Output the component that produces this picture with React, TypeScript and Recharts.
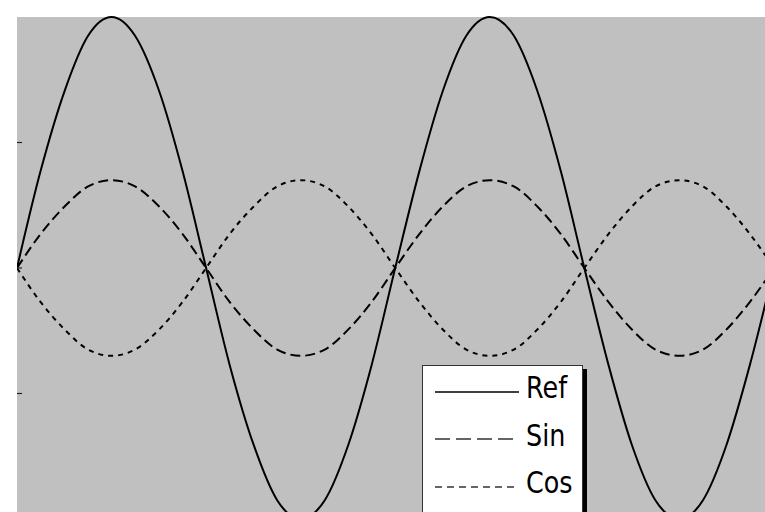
import { LineChart, Line, XAxis, YAxis, CartesianGrid, Legend } from 'recharts';

// sample positions along x (radians, step pi/8)
const xs = [
  0, 0.39, 0.79, 1.18, 1.57, 1.96, 2.36, 2.75, 3.14, 3.53, 3.93, 4.32, 4.71, 5.11, 5.5, 5.89,
  6.28, 6.68, 7.07, 7.46, 7.85, 8.25, 8.64, 9.03, 9.42, 9.82, 10.21, 10.6, 11.0, 11.39, 11.78, 12.17, 12.57,
];

// values
const refValues = [
  0, 0.77, 1.41, 1.85, 2, 1.85, 1.41, 0.77, 0, -0.77, -1.41, -1.85, -2, -1.85, -1.41, -0.77,
  0, 0.77, 1.41, 1.85, 2, 1.85, 1.41, 0.77, 0, -0.77, -1.41, -1.85, -2, -1.85, -1.41, -0.77, 0,
];
const sinValues = [
  0, 0.27, 0.49, 0.65, 0.7, 0.65, 0.49, 0.27, 0, -0.27, -0.49, -0.65, -0.7, -0.65, -0.49, -0.27,
  0, 0.27, 0.49, 0.65, 0.7, 0.65, 0.49, 0.27, 0, -0.27, -0.49, -0.65, -0.7, -0.65, -0.49, -0.27, 0,
];
const cosValues = [
  0, -0.27, -0.49, -0.65, -0.7, -0.65, -0.49, -0.27, 0, 0.27, 0.49, 0.65, 0.7, 0.65, 0.49, 0.27,
  0, -0.27, -0.49, -0.65, -0.7, -0.65, -0.49, -0.27, 0, 0.27, 0.49, 0.65, 0.7, 0.65, 0.49, 0.27, 0,
];

const yTicks = [-1, 0, 1];
const seriesNames = ['Ref', 'Sin', 'Cos'];

const data = xs.map((x, i) => ({
  x,
  Ref: refValues[i],
  Sin: sinValues[i],
  Cos: cosValues[i],
}));

const chartDash: Record<string, string | undefined> = { Ref: undefined, Sin: '10 5', Cos: '5 5' };
const legendDash: Record<string, string | undefined> = { Ref: undefined, Sin: '15 6', Cos: '7 5' };

// short inward tick mark, no label
const InTick = (props: any) => (
  <g>
    <line x1={props.x} y1={props.y} x2={props.x + 5} y2={props.y} stroke="#222" strokeWidth={1.2} />
  </g>
);

function BoxLegend() {
  return (
    <div
      style={{
        boxSizing: 'border-box',
        background: '#fff',
        border: '1px solid #333',
        boxShadow: '4px 4px 0 #000',
        padding: '2px 0 40px 12px',
        width: 161,
        fontFamily: "'DejaVu Sans', sans-serif",
        fontSize: 31,
        color: '#000',
      }}
    >
      {seriesNames.map((name) => (
        <div key={name} style={{ display: 'flex', alignItems: 'center', height: 47.5, whiteSpace: 'nowrap' }}>
          <svg width={84} height={4} style={{ display: 'block', flexShrink: 0 }}>
            <line
              x1={0}
              y1={2}
              x2={84}
              y2={2}
              stroke={name === 'Ref' ? '#000' : '#333'}
              strokeWidth={1.5}
              strokeDasharray={legendDash[name]}
            />
          </svg>
          <span
            style={{
              display: 'inline-block',
              marginLeft: 7,
              position: 'relative',
              top: -4,
              lineHeight: '47.5px',
              transform: 'scaleX(0.82)',
              transformOrigin: 'left center',
            }}
          >
            {name}
          </span>
        </div>
      ))}
    </div>
  );
}

export default function App() {
  return (
    <div style={{ position: 'absolute', left: 0, top: 0, width: 765, height: 512, overflow: 'hidden', background: '#fff' }}>
      <LineChart width={765} height={536} data={data} margin={{ top: 17, right: 0, left: 16, bottom: 17 }}>
        <CartesianGrid fill="#c0c0c0" horizontal={false} vertical={false} />
        <XAxis dataKey="x" type="number" domain={[0, 12.42]} allowDataOverflow hide />
        <YAxis
          type="number"
          domain={[-2, 2]}
          ticks={yTicks}
          width={1}
          tick={InTick}
          tickLine={false}
          tickSize={0}
          tickMargin={0}
          axisLine={false}
        />
        <Legend
          layout="vertical"
          align="center"
          verticalAlign="middle"
          content={() => <BoxLegend />}
          wrapperStyle={{ left: 422, top: 365, width: 'auto', height: 'auto' }}
        />
        {seriesNames.map((name) => (
          <Line
            key={name}
            dataKey={name}
            type="monotone"
            stroke="#000"
            strokeWidth={2}
            strokeDasharray={chartDash[name]}
            dot={false}
            activeDot={false}
            isAnimationActive={false}
          />
        ))}
      </LineChart>
    </div>
  );
}
